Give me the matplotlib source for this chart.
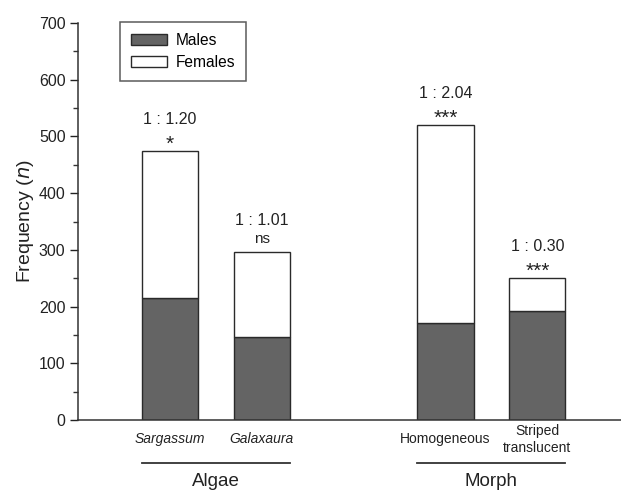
import matplotlib
matplotlib.use("Agg")
import matplotlib.pyplot as plt
from matplotlib.lines import Line2D

plt.rcParams['font.family'] = ['Liberation Sans', 'DejaVu Sans']

# Data
categories = ["Sargassum", "Galaxaura", "Homogeneous", "Striped\ntranslucent"]
males = [215, 147, 171, 192]
females = [259, 149, 349, 58]
ratios = ["1 : 1.20", "1 : 1.01", "1 : 2.04", "1 : 0.30"]
significance = ["*", "ns", "***", "***"]
groups = ["Algae", "Morph"]
italic_labels = [True, True, False, False]

positions = [0, 1, 3, 4]
width = 0.61
male_color = "#646464"
edge = "#2a2a2a"
text_color = "#222222"

fig = plt.figure(figsize=(6.21, 4.91), dpi=100)
ax = fig.add_axes([78 / 621, 71 / 491, 1 - 78 / 621, 397 / 491])

ax.bar(positions, males, width=width, color=male_color, edgecolor=edge,
       linewidth=1.0, label="Males", zorder=2)
ax.bar(positions, females, width=width, bottom=males, color="white",
       edgecolor=edge, linewidth=1.0, label="Females", zorder=2)

for x, m, f, r, s in zip(positions, males, females, ratios, significance):
    top = m + f
    if s == "ns":
        ax.annotate(s, (x, top), xytext=(0, 9.5), textcoords="offset points",
                    ha="center", va="center", fontsize=11, color=text_color)
    else:
        ax.annotate(s, (x, top), xytext=(0, 5), textcoords="offset points",
                    ha="center", va="center", fontsize=15, color=text_color)
    ax.annotate(r, (x, top), xytext=(0, 22.5), textcoords="offset points",
                ha="center", va="center", fontsize=11.5, color=text_color)

ax.set_xlim(-1, 4.91)
ax.set_ylim(0, 700)
ax.set_yticks(range(0, 701, 100))
ax.set_yticks(range(50, 700, 100), minor=True)
ax.tick_params(axis="y", which="major", direction="out", length=6,
               width=1, labelsize=11.5, colors=text_color, pad=3)
ax.tick_params(axis="y", which="minor", direction="out", length=3.5,
               width=1, colors="#333333")
ax.set_xticks([])
for side in ("top", "right"):
    ax.spines[side].set_visible(False)
for side in ("left", "bottom"):
    ax.spines[side].set_linewidth(1.1)
    ax.spines[side].set_color("#333333")

ax.set_ylabel("Frequency ($\\it{n}$)", fontsize=14, color=text_color,
              labelpad=2)

# Category labels below the axis
for x, c, it in zip(positions, categories, italic_labels):
    ax.annotate(c, (x, 0), xytext=(0, -14), textcoords="offset points",
                ha="center", va="center", fontsize=10,
                style="italic" if it else "normal", color=text_color,
                linespacing=1.3, annotation_clip=False)

# Group brackets
trans = ax.get_xaxis_transform()
for (x0, x1), g in zip([(positions[0], positions[1]),
                        (positions[2], positions[3])], groups):
    y_line = (420 - 463) / 397
    ax.add_line(Line2D([x0 - width / 2, x1 + width / 2], [y_line, y_line],
                       transform=trans, color="#333333", linewidth=1.3,
                       clip_on=False))
    ax.text((x0 + x1) / 2, (420 - 481) / 397, g, transform=trans,
            ha="center", va="center", fontsize=13.5, color=text_color)

leg = ax.legend(loc="upper left", bbox_to_anchor=(0.077, 1.003),
                frameon=True, fancybox=False, fontsize=11.2,
                handlelength=2.3, handleheight=0.72, borderpad=0.72,
                labelspacing=0.42, handletextpad=0.55, borderaxespad=0)
leg.get_frame().set_edgecolor("#333333")
leg.get_frame().set_linewidth(1.1)

fig.savefig("out.png", dpi=100)
